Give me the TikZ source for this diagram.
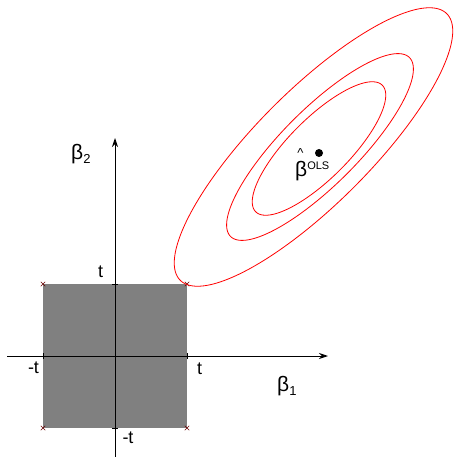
\documentclass[tikz,border=0pt]{standalone}
\usepackage{fontspec}
\setmainfont{Liberation Sans}
\usetikzlibrary{arrows.meta,shapes.misc}
\begin{document}
\begin{tikzpicture}[x=1pt,y=-1pt,
  axis/.style={line width=0.9pt, -{Stealth[length=9pt,width=6pt]}},
  contour/.style={draw=red, line width=0.8pt},
  tlbl/.style={inner sep=0pt, font=\fontsize{18}{18}\selectfont, anchor=base},
  blbl/.style={inner sep=0pt, font=\fontsize{21}{21}\selectfont, anchor=base west},
  cmark/.style={cross out, draw=red!40!black, line width=0.5pt, minimum size=4pt, inner sep=0pt},
  tick/.style={line width=0.9pt}
]
\useasboundingbox (0,0) rectangle (454,457);
% constraint square
\fill[fill={rgb,255:red,128;green,128;blue,128}] (43,284) rectangle (187,428);
% axes
\coordinate (xs) at (7,356);
\coordinate (xe) at (328,356);
\coordinate (ys) at (115,457);
\coordinate (ye) at (115,138);
\draw[axis] (xs) -- (xe);
\draw[axis] (ys) -- (ye);
% ticks
\coordinate (tl) at (43,356);
\coordinate (tr) at (187,356);
\coordinate (tt) at (115,284);
\coordinate (tb) at (115,428);
\draw[tick] ([yshift=-3pt]tl) -- ([yshift=3pt]tl);
\draw[tick] ([yshift=-3pt]tr) -- ([yshift=3pt]tr);
\draw[tick] ([xshift=-3pt]tt) -- ([xshift=3pt]tt);
\draw[tick] ([xshift=-3pt]tb) -- ([xshift=3pt]tb);
% corner markers
\node[cmark] (c1) at (43,284) {};
\node[cmark] (c2) at (187,284) {};
\node[cmark] (c3) at (43,428) {};
\node[cmark] (c4) at (187,428) {};
% contours (centre cx,cy; semi-axes a,b; major axis at 45 degrees up-right)
\foreach \cx/\cy/\a/\b in {313.5/147/188.5/57, 320/147/126.5/38, 319/148.5/89.5/30}{
  \draw[contour] plot[domain=0:360, samples=180, smooth cycle]
    ({\cx + 0.7071*(\a*cos(\x) + \b*sin(\x))}, {\cy + 0.7071*(-\a*cos(\x) + \b*sin(\x))});
}
% OLS point
\fill (319,153) circle (4pt);
\node[blbl] (bols) at (295,176) {β\raisebox{7pt}{\fontsize{11}{11}\selectfont OLS}};
\node[inner sep=0pt, anchor=base, font=\fontsize{13}{13}\selectfont] (hat) at (300.5,157.5) {\textasciicircum};
% labels
\node[tlbl] (lt) at (100.5,277) {t};
\node[tlbl] (llt) at (33.5,373) {-t};
\node[tlbl] (lrt) at (199.5,374) {t};
\node[tlbl] (lbt) at (128,443) {-t};
\node[blbl] (b2) at (71,160) {β\raisebox{-4pt}{\fontsize{13}{13}\selectfont 2}};
\node[blbl] (b1) at (277,391) {β\raisebox{-4pt}{\fontsize{13}{13}\selectfont 1}};
\end{tikzpicture}
\end{document}
